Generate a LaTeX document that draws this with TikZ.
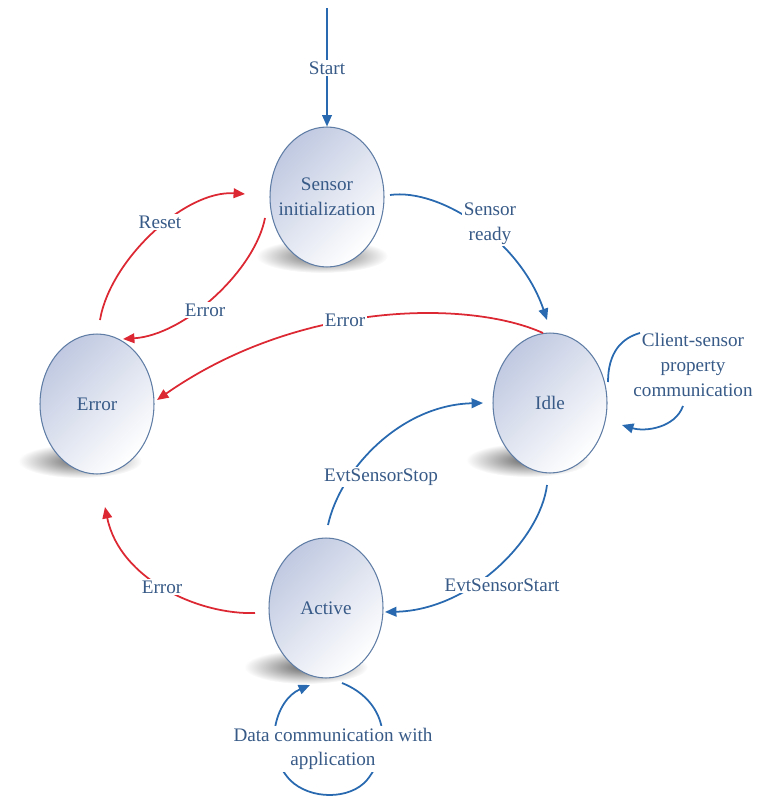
\documentclass[tikz,border=0pt]{standalone}
\usepackage{fontspec}
\setmainfont{Liberation Serif}
\usetikzlibrary{arrows.meta,calc,shapes.geometric}
\definecolor{lblue}{RGB}{40,105,175}
\definecolor{lred}{RGB}{220,40,50}
\definecolor{txt}{RGB}{55,90,135}
\definecolor{ellc}{RGB}{192,201,225}
\definecolor{bord}{RGB}{95,125,165}
\begin{document}
\begin{tikzpicture}[x=0.02cm,y=-0.02cm,
  state/.style={ellipse, draw=bord, line width=0.6pt, minimum width=2.28cm, minimum height=2.8cm, inner sep=0pt, top color=ellc, bottom color=white, shading angle=45},
  stxt/.style={text=txt, font=\fontsize{10.9}{14}\selectfont, align=center},
  lbl/.style={stxt, fill=white, inner sep=1pt},
  bl/.style={lblue, line width=1pt, -{Triangle[length=6.5pt,width=5.5pt]}},
  rd/.style={lred, line width=1pt, -{Triangle[length=6.5pt,width=5.5pt]}},
  shd/.style={inner color=black!60, outer color=white}]
\useasboundingbox (0,0) rectangle (768,800);
% shadows
\shade[shd] (322,256) ellipse [x radius=66, y radius=17];
\shade[shd] (528,460) ellipse [x radius=62, y radius=17];
\shade[shd] (80,461) ellipse [x radius=62, y radius=17];
\shade[shd] (306,667) ellipse [x radius=62, y radius=17];
% states
\node[state] (si) at (327,197) {};
\node[state] (idle) at (550,403) {};
\node[state] (err) at (97,404) {};
\node[state] (act) at (326,608) {};
\node[stxt] (siT) at (si) {Sensor\\initialization};
\node[stxt] (idleT) at (idle) {Idle};
\node[stxt] (errT) at (err) {Error};
\node[stxt] (actT) at (act) {Active};
% connectors
\coordinate (start) at (327,8);
\draw[bl] (start) -- (si.north);
\draw[bl] ($(si)+(63,-2)$) .. controls (440,188) and (520,240) .. ($(idle)+(-3,-83)$);
\draw[rd] ($(err)+(3,-84)$) .. controls (110,260) and (185,190) .. ($(si)+(-82,-3)$);
\draw[rd] ($(si)+(-62,21)$) .. controls (255,270) and (185,335) .. ($(err)+(26,-65)$);
\draw[rd] ($(idle)+(-7,-70)$) .. controls (470,300) and (300,300) .. ($(err)+(60,-4)$);
\draw[bl] ($(act)+(2,-83)$) .. controls (340,470) and (400,405) .. ($(idle)+(-67,0)$);
\draw[bl] ($(idle)+(-3,82)$) .. controls (540,540) and (470,610) .. ($(act)+(59,4)$);
\draw[rd] ($(act)+(-71,5)$) .. controls (200,615) and (120,580) .. ($(err)+(8,103)$);
\draw[bl] ($(idle)+(58,-21)$) .. controls (608,352) and (622,338) .. (640,333)
          (683,406) .. controls (675,428) and (645,432) .. ($(idle)+(72,22)$);
\draw[bl] ($(act)+(16,75)$) .. controls (385,700) and (395,745) .. (367,780)
          .. controls (350,800) and (310,800) .. (290,780)
          .. controls (262,750) and (275,700) .. ($(act)+(-16,77)$);
% labels
\node[lbl] (lStart) at (327,68) {Start};
\node[lbl] (lReady) at (490,224) {Sensor\\ready};
\node[lbl] (lReset) at (160,222) {Reset};
\node[lbl] (lErr1) at (205,310) {Error};
\node[lbl] (lErr2) at (345,320) {Error};
\node[lbl] (lStop) at (381,477) {EvtSensorStop};
\node[lbl] (lStartE) at (502,585) {EvtSensorStart};
\node[lbl] (lErr3) at (162,587) {Error};
\node[stxt, inner sep=1pt] (lClient) at (693,365) {Client-sensor\\property\\communication};
\node[lbl] (lData) at (333,749) {Data communication with\\application};
\end{tikzpicture}
\end{document}
